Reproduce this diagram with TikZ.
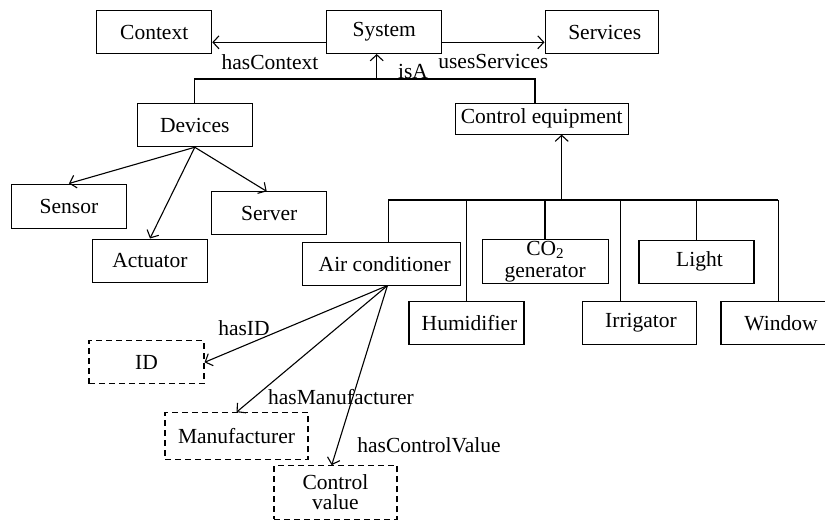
\documentclass[tikz,border=0pt]{standalone}
\usepackage{fontspec}
\setmainfont{Liberation Serif}
\usetikzlibrary{arrows.meta}
\begin{document}
\begin{tikzpicture}[x=1pt,y=-1pt,
  every node/.style={font=\fontsize{21.5}{20}\selectfont},
  box/.style={draw,line width=1.1pt,inner sep=0pt,minimum width=115pt,minimum height=43pt,align=center},
  attr/.style={box,dash pattern=on 6pt off 4pt},
  link/.style={line width=1.1pt},
  arr/.style={link,-{Straight Barb[length=6pt,width=13pt]}},
  lbl/.style={inner sep=0pt}]
\useasboundingbox (0,0) rectangle (825,525);

% top level
\node[box] (ctx) at (154.2,32) {Context};
\node[box] (sys) at (384.2,32) {System};
\node[box,minimum width=113.3pt] (svc) at (601.7,32) {\hspace*{6pt}Services};

% second level
\node[box,minimum height=43.4pt] (dev) at (194.8,125) {Devices};
\node[box,minimum width=173.3pt,minimum height=30.7pt] (ctl) at (541.7,118.7) {Control equipment};

% devices
\node[box,minimum width=114.3pt,minimum height=44.3pt] (sen) at (68.9,206.2) {Sensor};
\node[box,minimum width=114.6pt,minimum height=43.7pt] (act) at (150,260.9) {Actuator};
\node[box] (ser) at (269.2,213.4) {Server};

% control equipment
\node[box,minimum width=158.1pt,minimum height=42.3pt] (ac) at (381.7,263.9) {\hspace*{6pt}Air conditioner};
\node[box,minimum width=125.7pt,minimum height=44.3pt] (co2) at (545.2,261.2) {CO\textsubscript{2}\\[2pt]generator};
\node[box] (lig) at (696.5,261.7) {\hspace*{6pt}Light};
\node[box] (hum) at (466.5,323) {\hspace*{6pt}Humidifier};
\node[box,minimum width=114.4pt] (irr) at (639.5,322.7) {\hspace*{3pt}Irrigator};
\node[box,minimum width=120pt] (win) at (781,322.7) {Window};

% attributes
\node[attr] (id) at (146.5,362.3) {ID};
\node[attr,minimum width=143pt,minimum height=46.6pt] (man) at (236.5,436) {Manufacturer};
\node[attr,minimum width=123pt,minimum height=53.6pt] (cv) at (335.5,492.5) {Control\\value};

% relations of the system
\draw[arr] ([yshift=-10.3pt]sys.west) -- ([yshift=-10.3pt]ctx.east);
\draw[arr] ([yshift=-10.3pt]sys.east) -- ([yshift=-10.3pt]svc.west);
\node[lbl] (lctx) at (270,62) {hasContext};
\node[lbl] (lsvc) at (493.3,61.7) {usesServices};

% isA tree
\coordinate (isa) at (376.7,79);
\draw[link] (dev.north) |- (isa) -| ([xshift=-6.7pt]ctl.north);
\draw[arr] (isa) -- (isa |- sys.south);
\node[lbl] (lisa) at (413,71.7) {isA};

% devices
\draw[arr] (dev.south) -- (sen.north);
\draw[arr] (dev.south) -- (act.north);
\draw[arr] (dev.south) -- ([xshift=-2.5pt]ser.north);

% control equipment bus
\coordinate (bc) at (561.7,200);
\coordinate (b1) at (388.3,200);
\coordinate (b2) at (466.7,200);
\coordinate (b3) at (545,200);
\coordinate (b4) at (620.3,200);
\coordinate (b5) at (696.7,200);
\coordinate (b6) at (778.3,200);
\draw[arr] (bc) -- (bc |- ctl.south);
\draw[link] (b1) -- (b6);
\draw[link] (b1) -- (b1 |- ac.north);
\draw[link] (b2) -- (b2 |- hum.north);
\draw[link] (b3) -- (b3 |- co2.north);
\draw[link] (b4) -- (b4 |- irr.north);
\draw[link] (b5) -- (b5 |- lig.north);
\draw[link] (b6) -- (b6 |- win.north);

% attributes of the air conditioner
\coordinate (aco) at ([xshift=5.7pt]ac.south);
\draw[arr] (aco) -- (id.east);
\draw[arr] (aco) -- (man.north);
\draw[arr] (aco) -- ([xshift=-3.8pt]cv.north);
\node[lbl] (lid) at (244,328) {hasID};
\node[lbl] (lman) at (341,396.7) {hasManufacturer};
\node[lbl] (lcv) at (429,445) {hasControlValue};
\end{tikzpicture}
\end{document}
